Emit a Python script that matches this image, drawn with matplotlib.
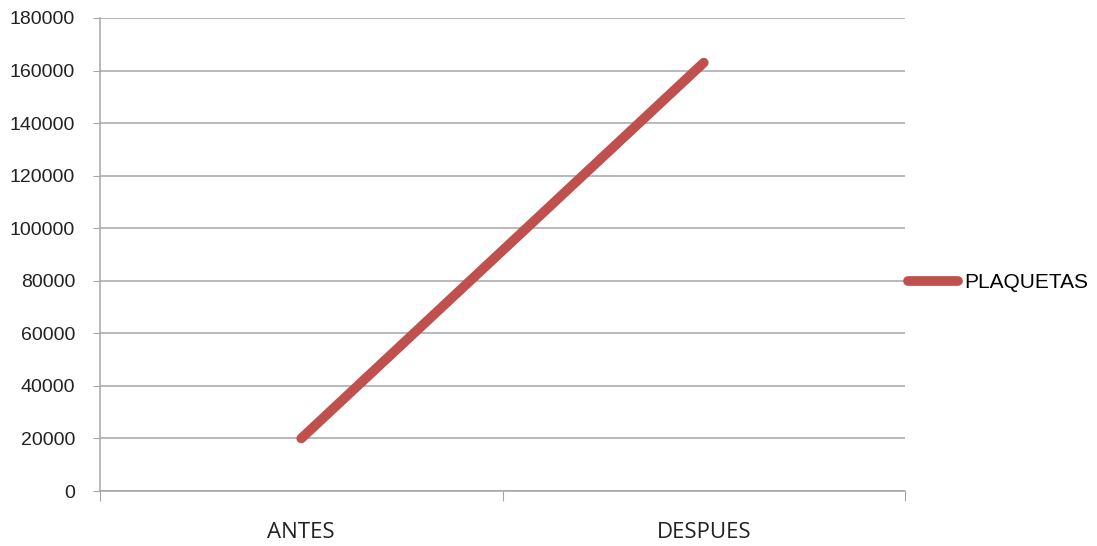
import numpy as np
from matplotlib import pyplot as plt

categorias = ['ANTES', 'DESPUES']
plaquetas = [20000, 163000]
y_ticks = list(range(0, 180001, 20000))

fig = plt.figure(figsize=(10.97, 5.46), dpi=100)
fig.set_facecolor('white')
ax = fig.add_axes([100 / 1097, 1 - 491 / 546, 805 / 1097, 473 / 546])

x = np.arange(len(categorias)) + 0.5
ax.plot(x, plaquetas, color='#C0504D', linewidth=7, solid_capstyle='round',
        label='PLAQUETAS', zorder=3)

ax.set_xlim(0, len(categorias))
ax.set_ylim(0, 180000)
ax.set_yticks(y_ticks)
ax.set_yticklabels([str(v) for v in y_ticks], fontfamily='Liberation Sans', fontsize=14, color='#222222')
ax.set_xticks(np.arange(len(categorias) + 1))
ax.set_xticklabels([''] * (len(categorias) + 1))
for xi, c in zip(x, categorias):
    ax.text(xi, -0.065, c, transform=ax.get_xaxis_transform(), ha='center', va='top',
            fontfamily='Open Sans', fontsize=16, color='#222222')

ax.grid(axis='y', color='#a6a6a6', linewidth=1.1)
ax.set_axisbelow(True)
for s in ['top', 'right']:
    ax.spines[s].set_visible(False)
for s in ['left', 'bottom']:
    ax.spines[s].set_color('#a6a6a6')
    ax.spines[s].set_linewidth(1.1)
ax.tick_params(axis='y', length=5, color='#a6a6a6', pad=13)
ax.tick_params(axis='x', length=7, color='#a6a6a6')

leg = ax.legend(loc='center left', bbox_to_anchor=(1.004, 0.44), frameon=False,
                handlelength=2.4, handletextpad=0.3, borderaxespad=0, borderpad=0,
                prop={'family': 'Liberation Sans', 'size': 15})

fig.savefig('out.png', dpi=100, facecolor='white')
